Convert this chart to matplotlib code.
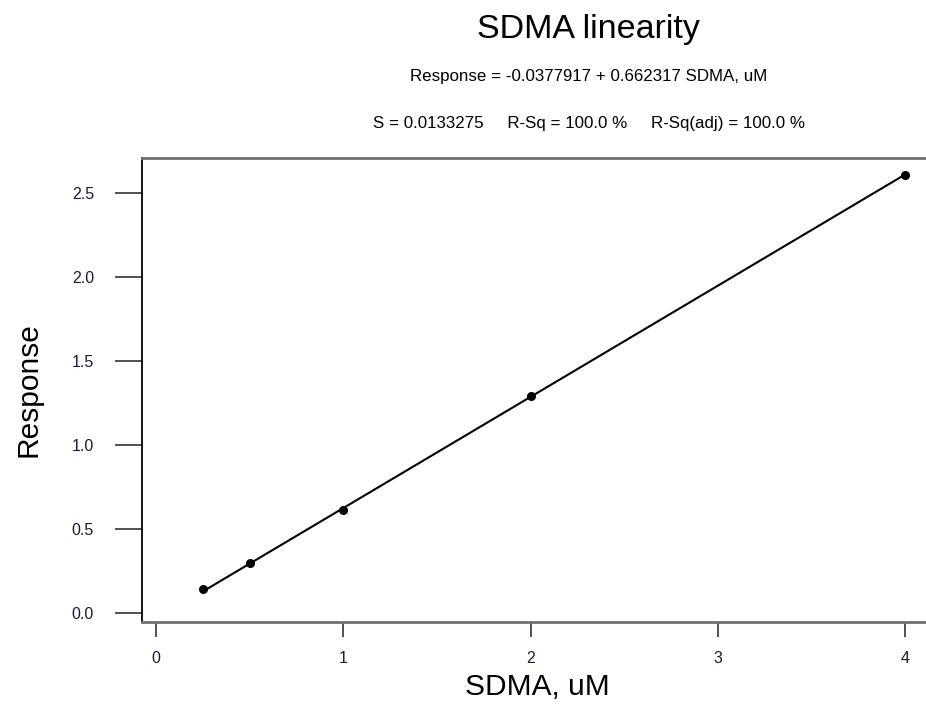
#!/usr/bin/env python3
"""Fitted line plot for SDMA linearity, Minitab style."""

import matplotlib
matplotlib.use('Agg')
import matplotlib.pyplot as plt
import numpy as np

plt.rcParams['font.family'] = ['Liberation Sans', 'DejaVu Sans']

# ---------------------------------------------------------------------------
# Data
# ---------------------------------------------------------------------------
sdma_um = [0.25, 0.5, 1.0, 2.0, 4.0]
response = [0.140, 0.295, 0.610, 1.290, 2.610]

intercept = -0.0377917
slope = 0.662317

x_ticks = [0, 1, 2, 3, 4]
y_ticks = [0.0, 0.5, 1.0, 1.5, 2.0, 2.5]

title = 'SDMA linearity'
eq_text = 'Response = -0.0377917 + 0.662317 SDMA, uM'
stats_text = 'S = 0.0133275     R-Sq = 100.0 %     R-Sq(adj) = 100.0 %'

# ---------------------------------------------------------------------------
# Plot
# ---------------------------------------------------------------------------
fig = plt.figure(figsize=(9.26, 7.04), dpi=100)
ax = fig.add_axes([0.1533, 0.1165, 0.8467, 0.6596])

xfit = np.array([min(sdma_um), max(sdma_um)])
ax.plot(xfit, intercept + slope * xfit, color='black', lw=1.5)
ax.plot(sdma_um, response, 'o', color='black', ms=5.5)

ax.set_xlim(-0.075, 4.11)
ax.set_ylim(-0.054, 2.711)
ax.set_xticks(x_ticks)
ax.set_xticklabels([str(v) for v in x_ticks])
ax.set_yticks(y_ticks)
ax.set_yticklabels([f'{v:.1f}' for v in y_ticks])

ax.tick_params(axis='x', direction='out', length=11, width=1.2,
               pad=10, labelsize=11.5, colors='#333333', labelcolor='#1a1a33')
ax.tick_params(axis='y', direction='out', length=19.5, width=1.2,
               pad=15, labelsize=11.5, colors='#333333', labelcolor='#1a1a33')

ax.spines['right'].set_visible(False)
ax.spines['left'].set_color('black')
ax.spines['left'].set_linewidth(1.3)
for s in ('top', 'bottom'):
    ax.spines[s].set_color('#707070')
    ax.spines[s].set_linewidth(2.0)

fig.text(0.636, 0.958, title, ha='center', va='center', fontsize=24.5)
fig.text(0.636, 0.891, eq_text, ha='center', va='center', fontsize=12.2)
fig.text(0.636, 0.825, stats_text, ha='center', va='center', fontsize=12.2)

fig.text(0.580, 0.024, 'SDMA, uM', ha='center', va='center', fontsize=21.5)
fig.text(0.031, 0.446, 'Response', ha='center', va='center', fontsize=21.5,
         rotation=90)

fig.savefig('out.png', dpi=100)
